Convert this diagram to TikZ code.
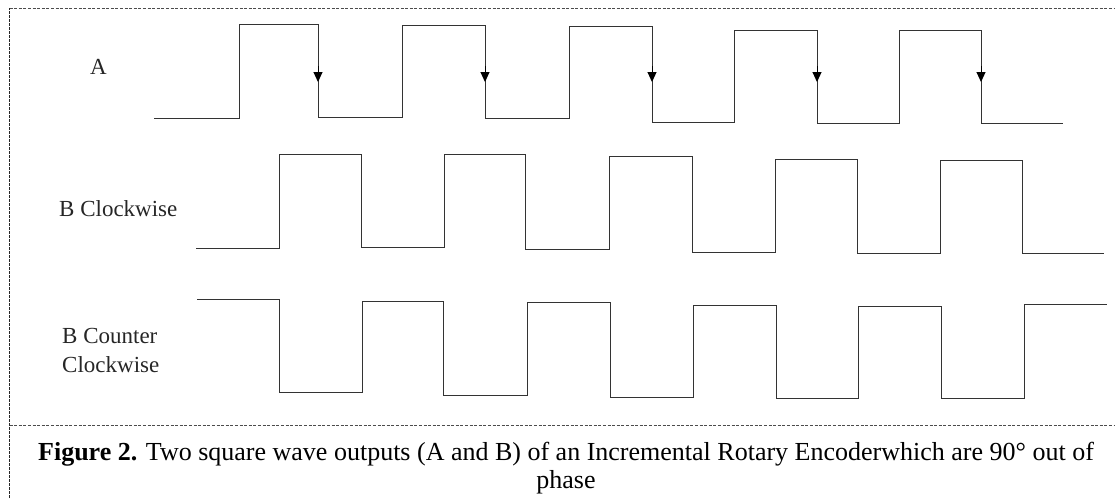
\documentclass[tikz,border=0pt]{standalone}
\usepackage{fontspec}
\setmainfont{Liberation Serif}
\usetikzlibrary{arrows.meta}
\tikzset{
  frame/.style={draw=black!70, line width=0.8pt, dash pattern=on 3pt off 1.6pt},
  sideframe/.style={draw=black!85, line width=1.3pt, dash pattern=on 3pt off 1pt},
  wave/.style={draw=black!80, line width=1pt, line join=miter},
  edgetip/.style={-{Triangle[width=9pt,length=10pt]}, draw=black, line width=1pt},
  lbl/.style={font=\fontsize{23}{29}\selectfont, text=black!85, inner sep=0pt, align=left, anchor=west},
  captext/.style={font=\fontsize{26}{28}\selectfont, inner sep=0pt, align=center}
}
\begin{document}
\begin{tikzpicture}[x=1pt,y=-1pt]
\useasboundingbox (0,0) rectangle (1115,498);
% frame
\draw[frame] (9.5,8) -- (1115,8);
\draw[frame] (9.5,425) -- (1115,425);
\draw[sideframe] (9.5,498) -- (9.5,8);
% labels
\node[lbl] (la) at (90,67) {A};
\node[lbl] (lb) at (59,209) {B Clockwise};
\node[lbl] (lc) at (62,350) {B Counter\\Clockwise};
% wave A
\draw[wave] (154,118) -- (239,118) -- (239,24) -- (318,24) -- (318,117) -- (402,117) -- (402,25) -- (485,25) -- (485,118) -- (569,118) -- (569,26) -- (652,26) -- (652,122) -- (734,122) -- (734,30) -- (817,30) -- (817,123) -- (899,123) -- (899,30) -- (981,30) -- (981,123) -- (1063,123);
% arrow heads on falling edges of A
\foreach \x in {318,485,652,817,981}{
  \draw[edgetip] (\x,66) -- (\x,82);
}
% wave B clockwise
\draw[wave] (196,248) -- (279,248) -- (279,154) -- (361,154) -- (361,247) -- (444,247) -- (444,154) -- (525,154) -- (525,249) -- (609,249) -- (609,156) -- (692,156) -- (692,252) -- (775,252) -- (775,159) -- (857,159) -- (857,253) -- (940,253) -- (940,160) -- (1022,160) -- (1022,253) -- (1104,253);
% wave B counter clockwise
\draw[wave] (197,299) -- (279,299) -- (279,392) -- (362,392) -- (362,301) -- (443,301) -- (443,395) -- (527,395) -- (527,302) -- (610,302) -- (610,397) -- (693,397) -- (693,305) -- (776,305) -- (776,398) -- (858,398) -- (858,306) -- (941,306) -- (941,398) -- (1024,398) -- (1024,304) -- (1107,304);
% caption
\node[captext] (caption) at (566,468) {\textbf{Figure 2.} Two square wave outputs (A and B) of an Incremental Rotary Encoderwhich are 90° out of\\phase};
\end{tikzpicture}
\end{document}
